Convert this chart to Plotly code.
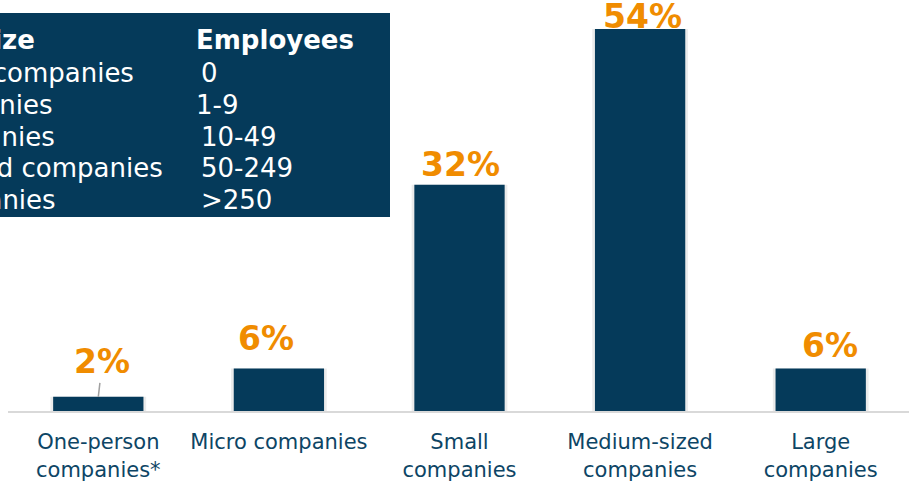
import plotly.graph_objects as go

# ---- data ----
categories = ["One-person<br>companies*", "Micro companies", "Small<br>companies",
              "Medium-sized<br>companies", "Large<br>companies"]
shares = [2, 6, 32, 54, 6]
share_labels = ["2%", "6%", "32%", "54%", "6%"]

table_header = ["Company size", "Employees"]
table_sizes = ["One-person companies", "Micro companies", "Small companies",
               "Medium-sized companies", "Large companies"]
table_employees = ["0", "1-9", "10-49", "50-249", ">250"]

# ---- styling ----
NAVY = "#053A5A"
ORANGE = "#F08C00"
TICK_COLOR = "#0D4565"
FONT = "DejaVu Sans"

W, H = 909, 483
ML, MR, MT, MB = 8, 0, 0, 72
plot_w = W - ML - MR
plot_h = H - MT - MB
cat_px = 180.6
x_range = [-0.5, -0.5 + plot_w / cat_px]
y_range = [0, 58.1]

label_xshift = [4, -13, 1, 2, 9]
label_yshift = [35, 30, 20, 13, 23]

fig = go.Figure()

# soft shadow
fig.add_trace(go.Bar(
    x=list(range(len(categories))), y=shares, width=0.53,
    marker=dict(color="rgba(0,0,0,0.08)", line=dict(width=0)),
    hoverinfo="skip", showlegend=False))
fig.add_trace(go.Bar(
    x=list(range(len(categories))), y=shares, width=0.5,
    marker=dict(color=NAVY, line=dict(width=0)),
    showlegend=False))

# value labels
for i, (v, t) in enumerate(zip(shares, share_labels)):
    if i == 0:
        fig.add_annotation(x=i, y=v, xref="x", yref="y", text=f"<b>{t}</b>",
                           showarrow=True, arrowhead=0, arrowwidth=1.5,
                           arrowcolor="#A0A0A0", ax=label_xshift[i], ay=-label_yshift[i],
                           standoff=0,
                           font=dict(family=FONT, size=33, color=ORANGE))
    else:
        fig.add_annotation(x=i, y=v, xref="x", yref="y", text=f"<b>{t}</b>",
                           showarrow=False, yanchor="middle", xanchor="center",
                           xshift=label_xshift[i], yshift=label_yshift[i],
                           font=dict(family=FONT, size=33, color=ORANGE))

# info box
def px_to_paper_x(px):
    return (px - ML) / plot_w

def px_to_paper_y(py):
    return (H - MB - py) / plot_h

fig.add_shape(type="rect", xref="paper", yref="paper",
              x0=px_to_paper_x(-20), x1=px_to_paper_x(390),
              y0=px_to_paper_y(217), y1=px_to_paper_y(13),
              fillcolor=NAVY, line=dict(width=0), layer="above")

col1_x = px_to_paper_x(-169)
col2_x = px_to_paper_x(194)
header_y = 39.5
row_y0, row_dy = 73, 31.8

fig.add_annotation(x=col1_x, y=px_to_paper_y(header_y), xref="paper", yref="paper",
                   text=f"<b>{table_header[0]}</b>", showarrow=False,
                   xanchor="left", yanchor="middle",
                   font=dict(family=FONT, size=26, color="white"))
fig.add_annotation(x=col2_x, y=px_to_paper_y(header_y), xref="paper", yref="paper",
                   text=f"<b>{table_header[1]}</b>", showarrow=False,
                   xanchor="left", yanchor="middle",
                   font=dict(family=FONT, size=26, color="white"))
for r, (s, e) in enumerate(zip(table_sizes, table_employees)):
    yy = px_to_paper_y(row_y0 + r * row_dy)
    fig.add_annotation(x=col1_x, y=yy, xref="paper", yref="paper", text=s,
                       showarrow=False, xanchor="left", yanchor="middle",
                       font=dict(family=FONT, size=26, color="white"))
    fig.add_annotation(x=col2_x + (0.005 if r != 1 else 0), y=yy, xref="paper", yref="paper", text=e,
                       showarrow=False, xanchor="left", yanchor="middle",
                       font=dict(family=FONT, size=26, color="white"))

fig.update_layout(
    width=W, height=H,
    margin=dict(l=ML, r=MR, t=MT, b=MB, pad=0),
    paper_bgcolor="white", plot_bgcolor="white",
    barmode="overlay",
    showlegend=False,
    xaxis=dict(range=x_range, tickmode="array",
               tickvals=list(range(len(categories))), ticktext=categories,
               showgrid=False, zeroline=False, showline=True,
               linecolor="#D9D9D9", linewidth=2,
               ticks="", ticklabelstandoff=11,
               tickfont=dict(family=FONT, size=21, color=TICK_COLOR),
               fixedrange=True),
    yaxis=dict(range=y_range, visible=False, showgrid=False, zeroline=False,
               fixedrange=True),
)

fig.write_html("out.html", config={"displayModeBar": False},
               post_script="document.body.style.margin='0';document.body.style.overflow='hidden';")
